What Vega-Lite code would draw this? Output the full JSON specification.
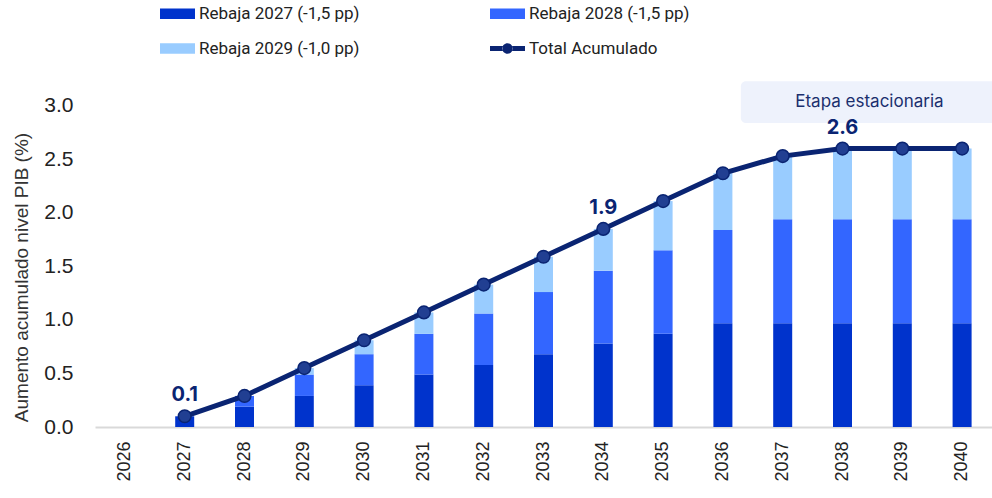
{
  "$schema": "https://vega.github.io/schema/vega-lite/v6.json",
  "autosize": "none",
  "width": 897,
  "height": 348,
  "padding": {"left": 95, "top": 79, "right": 0, "bottom": 71},
  "background": "white",
  "config": {
    "view": {"stroke": null},
    "font": "Liberation Sans",
    "axisY": {"titleFontSize": 19, "titleFontWeight": "normal", "titleColor": "#333333", "titlePadding": 12, "titleY": 198, "values": [0, 0.5, 1, 1.5, 2, 2.5, 3], "format": ".1f", "labelFontSize": 21, "labelColor": "#222222", "labelPadding": 22, "ticks": false, "domain": false, "grid": false}
  },
  "datasets": {
    "barras": [
      {"anio": 2027, "serie": "Rebaja 2027 (-1,5 pp)", "orden": 1, "valor": 0.10},
      {"anio": 2028, "serie": "Rebaja 2027 (-1,5 pp)", "orden": 1, "valor": 0.19},
      {"anio": 2028, "serie": "Rebaja 2028 (-1,5 pp)", "orden": 2, "valor": 0.10},
      {"anio": 2029, "serie": "Rebaja 2027 (-1,5 pp)", "orden": 1, "valor": 0.29},
      {"anio": 2029, "serie": "Rebaja 2028 (-1,5 pp)", "orden": 2, "valor": 0.20},
      {"anio": 2029, "serie": "Rebaja 2029 (-1,0 pp)", "orden": 3, "valor": 0.06},
      {"anio": 2030, "serie": "Rebaja 2027 (-1,5 pp)", "orden": 1, "valor": 0.39},
      {"anio": 2030, "serie": "Rebaja 2028 (-1,5 pp)", "orden": 2, "valor": 0.29},
      {"anio": 2030, "serie": "Rebaja 2029 (-1,0 pp)", "orden": 3, "valor": 0.13},
      {"anio": 2031, "serie": "Rebaja 2027 (-1,5 pp)", "orden": 1, "valor": 0.49},
      {"anio": 2031, "serie": "Rebaja 2028 (-1,5 pp)", "orden": 2, "valor": 0.38},
      {"anio": 2031, "serie": "Rebaja 2029 (-1,0 pp)", "orden": 3, "valor": 0.20},
      {"anio": 2032, "serie": "Rebaja 2027 (-1,5 pp)", "orden": 1, "valor": 0.58},
      {"anio": 2032, "serie": "Rebaja 2028 (-1,5 pp)", "orden": 2, "valor": 0.48},
      {"anio": 2032, "serie": "Rebaja 2029 (-1,0 pp)", "orden": 3, "valor": 0.27},
      {"anio": 2033, "serie": "Rebaja 2027 (-1,5 pp)", "orden": 1, "valor": 0.68},
      {"anio": 2033, "serie": "Rebaja 2028 (-1,5 pp)", "orden": 2, "valor": 0.58},
      {"anio": 2033, "serie": "Rebaja 2029 (-1,0 pp)", "orden": 3, "valor": 0.33},
      {"anio": 2034, "serie": "Rebaja 2027 (-1,5 pp)", "orden": 1, "valor": 0.78},
      {"anio": 2034, "serie": "Rebaja 2028 (-1,5 pp)", "orden": 2, "valor": 0.68},
      {"anio": 2034, "serie": "Rebaja 2029 (-1,0 pp)", "orden": 3, "valor": 0.39},
      {"anio": 2035, "serie": "Rebaja 2027 (-1,5 pp)", "orden": 1, "valor": 0.87},
      {"anio": 2035, "serie": "Rebaja 2028 (-1,5 pp)", "orden": 2, "valor": 0.78},
      {"anio": 2035, "serie": "Rebaja 2029 (-1,0 pp)", "orden": 3, "valor": 0.46},
      {"anio": 2036, "serie": "Rebaja 2027 (-1,5 pp)", "orden": 1, "valor": 0.97},
      {"anio": 2036, "serie": "Rebaja 2028 (-1,5 pp)", "orden": 2, "valor": 0.87},
      {"anio": 2036, "serie": "Rebaja 2029 (-1,0 pp)", "orden": 3, "valor": 0.53},
      {"anio": 2037, "serie": "Rebaja 2027 (-1,5 pp)", "orden": 1, "valor": 0.97},
      {"anio": 2037, "serie": "Rebaja 2028 (-1,5 pp)", "orden": 2, "valor": 0.97},
      {"anio": 2037, "serie": "Rebaja 2029 (-1,0 pp)", "orden": 3, "valor": 0.59},
      {"anio": 2038, "serie": "Rebaja 2027 (-1,5 pp)", "orden": 1, "valor": 0.97},
      {"anio": 2038, "serie": "Rebaja 2028 (-1,5 pp)", "orden": 2, "valor": 0.97},
      {"anio": 2038, "serie": "Rebaja 2029 (-1,0 pp)", "orden": 3, "valor": 0.66},
      {"anio": 2039, "serie": "Rebaja 2027 (-1,5 pp)", "orden": 1, "valor": 0.97},
      {"anio": 2039, "serie": "Rebaja 2028 (-1,5 pp)", "orden": 2, "valor": 0.97},
      {"anio": 2039, "serie": "Rebaja 2029 (-1,0 pp)", "orden": 3, "valor": 0.66},
      {"anio": 2040, "serie": "Rebaja 2027 (-1,5 pp)", "orden": 1, "valor": 0.97},
      {"anio": 2040, "serie": "Rebaja 2028 (-1,5 pp)", "orden": 2, "valor": 0.97},
      {"anio": 2040, "serie": "Rebaja 2029 (-1,0 pp)", "orden": 3, "valor": 0.66}
    ],
    "total": [
      {"anio": 2027, "total": 0.10, "etiqueta": "0.1"},
      {"anio": 2028, "total": 0.29, "etiqueta": null},
      {"anio": 2029, "total": 0.55, "etiqueta": null},
      {"anio": 2030, "total": 0.81, "etiqueta": null},
      {"anio": 2031, "total": 1.07, "etiqueta": null},
      {"anio": 2032, "total": 1.33, "etiqueta": null},
      {"anio": 2033, "total": 1.59, "etiqueta": null},
      {"anio": 2034, "total": 1.85, "etiqueta": "1.9"},
      {"anio": 2035, "total": 2.11, "etiqueta": null},
      {"anio": 2036, "total": 2.37, "etiqueta": null},
      {"anio": 2037, "total": 2.53, "etiqueta": null},
      {"anio": 2038, "total": 2.60, "etiqueta": "2.6"},
      {"anio": 2039, "total": 2.60, "etiqueta": null},
      {"anio": 2040, "total": 2.60, "etiqueta": null}
    ],
    "anotacion": [
      {"inicio": 2036.3, "fin": 2041.2, "y_inf": 2.84, "y_sup": 3.23, "x_texto": 2038.45, "y_texto": 3.035, "texto": "Etapa estacionaria"}
    ]
  },
  "layer": [
    {
      "data": {"name": "anotacion"},
      "mark": {"type": "rect", "color": "#EEF2FC", "cornerRadius": 5, "clip": true},
      "encoding": {
        "x": {"field": "inicio", "type": "quantitative", "scale": {"domain": [2025.5, 2040.5], "nice": false, "zero": false}, "axis": null},
        "x2": {"field": "fin"},
        "y": {"field": "y_inf", "type": "quantitative", "scale": {"domain": [0, 3.25], "nice": false}, "title": "Aumento acumulado nivel PIB (%)"},
        "y2": {"field": "y_sup"}
      }
    },
    {
      "data": {"name": "anotacion"},
      "mark": {"type": "text", "font": "Inter", "fontSize": 17, "color": "#1B2F6E", "align": "center", "baseline": "middle"},
      "encoding": {
        "x": {"field": "x_texto", "type": "quantitative", "scale": {"domain": [2025.5, 2040.5], "nice": false, "zero": false}, "axis": null},
        "y": {"field": "y_texto", "type": "quantitative", "scale": {"domain": [0, 3.25], "nice": false}, "title": "Aumento acumulado nivel PIB (%)"},
        "text": {"field": "texto"}
      }
    },
    {
      "layer": [
        {
          "data": {"name": "barras"},
          "mark": {"type": "bar", "size": 19},
          "encoding": {
            "x": {
              "field": "anio", "type": "ordinal",
              "scale": {"domain": [2026, 2027, 2028, 2029, 2030, 2031, 2032, 2033, 2034, 2035, 2036, 2037, 2038, 2039, 2040], "paddingInner": 0, "paddingOuter": 0},
              "axis": {"title": null, "labelAngle": -90, "labelFontSize": 18, "labelColor": "#222222", "labelPadding": 14, "ticks": false, "domainColor": "#D9D9D9", "domainWidth": 2, "grid": false}
            },
            "y": {
              "field": "valor", "type": "quantitative", "stack": "zero",
              "scale": {"domain": [0, 3.25], "nice": false},
              "title": "Aumento acumulado nivel PIB (%)"
            },
            "order": {"field": "orden", "type": "quantitative"},
            "color": {
              "field": "serie", "type": "nominal",
              "scale": {"domain": ["Rebaja 2027 (-1,5 pp)", "Rebaja 2029 (-1,0 pp)", "Rebaja 2028 (-1,5 pp)", "Total Acumulado"], "range": ["#0033CC", "#99CCFF", "#3366FF", "#0A2472"]},
              "legend": {
                "orient": "none", "legendX": 65, "legendY": -83, "columns": 2, "title": null,
                "labelFont": "Roboto", "labelFontSize": 17, "labelColor": "#222222", "labelOffset": 4, "labelLimit": 400,
                "symbolSize": 1225, "symbolStrokeWidth": 0, "columnPadding": 130, "rowPadding": 9, "padding": 0,
                "encode": {"symbols": {"update": {"shape": {"signal": "datum.value === 'Total Acumulado' ? 'M-1,-0.14H-0.28V0.14H-1Z M0.28,-0.14H1V0.14H0.28Z M-0.3,0A0.3,0.3 0 1 0 0.3,0A0.3,0.3 0 1 0 -0.3,0Z' : 'M-1,-0.3H1V0.3H-1Z'"}}}}
              }
            }
          }
        },
        {
          "data": {"name": "total"},
          "mark": {"type": "line", "color": "#0A2472", "strokeWidth": 5},
          "encoding": {
            "x": {"field": "anio", "type": "ordinal", "scale": {"domain": [2026, 2027, 2028, 2029, 2030, 2031, 2032, 2033, 2034, 2035, 2036, 2037, 2038, 2039, 2040], "paddingInner": 0, "paddingOuter": 0}},
            "y": {"field": "total", "type": "quantitative", "scale": {"domain": [0, 3.25], "nice": false}, "title": "Aumento acumulado nivel PIB (%)"}
          }
        },
        {
          "data": {"name": "total"},
          "mark": {"type": "point", "shape": "circle", "filled": true, "size": 160, "fill": "#213F92", "stroke": "#0A2472", "strokeWidth": 1.5, "opacity": 1},
          "encoding": {
            "x": {"field": "anio", "type": "ordinal", "scale": {"domain": [2026, 2027, 2028, 2029, 2030, 2031, 2032, 2033, 2034, 2035, 2036, 2037, 2038, 2039, 2040], "paddingInner": 0, "paddingOuter": 0}},
            "y": {"field": "total", "type": "quantitative", "scale": {"domain": [0, 3.25], "nice": false}, "title": "Aumento acumulado nivel PIB (%)"}
          }
        },
        {
          "data": {"name": "total"},
          "transform": [{"filter": "datum.etiqueta != null"}],
          "mark": {"type": "text", "font": "Inter", "fontSize": 20, "fontWeight": "bold", "color": "#0A2472", "baseline": "bottom", "dy": -11},
          "encoding": {
            "x": {"field": "anio", "type": "ordinal", "scale": {"domain": [2026, 2027, 2028, 2029, 2030, 2031, 2032, 2033, 2034, 2035, 2036, 2037, 2038, 2039, 2040], "paddingInner": 0, "paddingOuter": 0}},
            "y": {"field": "total", "type": "quantitative", "scale": {"domain": [0, 3.25], "nice": false}, "title": "Aumento acumulado nivel PIB (%)"},
            "text": {"field": "etiqueta"}
          }
        }
      ]
    }
  ],
  "resolve": {"scale": {"x": "independent"}}
}
